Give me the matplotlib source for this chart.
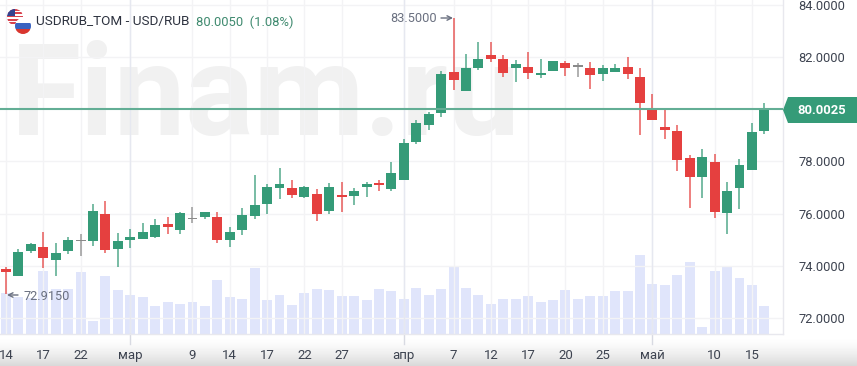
import numpy as np
import matplotlib
matplotlib.use('Agg')
import matplotlib.pyplot as plt
from matplotlib.patches import Circle, Polygon, Rectangle

# candle values
opens = [73.89, 73.61, 74.56, 74.72, 74.22, 74.57, 74.98, 74.97, 75.97, 74.66, 75.00, 75.04, 75.09, 75.59, 75.37, 75.85,
         75.86, 75.87, 74.99, 75.39, 75.91, 76.38, 76.97, 76.98, 76.63, 76.74, 76.10, 76.72, 76.68, 77.01, 77.16, 76.95,
         77.29, 78.73, 79.41, 79.85, 81.42, 80.72, 81.57, 82.08, 81.93, 81.58, 81.64, 81.33, 81.48, 81.78, 81.64, 81.57,
         81.36, 81.44, 81.64, 81.24, 80.05, 79.33, 79.18, 78.12, 77.41, 77.98, 76.01, 76.97, 77.69, 79.18]
closes = [73.78, 74.52, 74.82, 74.31, 74.48, 74.99, 74.95, 76.10, 74.61, 74.95, 75.11, 75.30, 75.57, 75.48, 76.04, 75.80,
          76.06, 74.99, 75.30, 75.96, 76.35, 77.02, 77.13, 76.72, 77.02, 76.00, 77.02, 76.65, 76.87, 77.14, 77.10, 77.56,
          78.71, 79.48, 79.82, 81.37, 81.14, 81.58, 81.92, 81.94, 81.38, 81.74, 81.39, 81.41, 81.87, 81.58, 81.69, 81.33,
          81.58, 81.58, 81.34, 80.23, 79.60, 79.22, 78.07, 77.41, 78.17, 76.06, 76.87, 77.88, 79.13, 80.0025]
highs = [73.97, 74.63, 74.88, 75.30, 74.86, 75.11, 75.21, 76.37, 76.47, 75.27, 75.41, 75.64, 75.80, 75.89, 76.08, 76.27,
         76.06, 76.08, 75.50, 76.22, 77.50, 77.13, 77.76, 77.29, 77.06, 76.95, 77.19, 77.23, 77.00, 77.20, 77.29, 77.97,
         78.86, 79.58, 79.90, 81.47, 83.50, 82.11, 82.57, 82.57, 82.08, 81.89, 82.19, 81.94, 81.87, 81.87, 81.79, 81.80,
         81.70, 81.75, 81.99, 81.60, 80.59, 79.97, 79.39, 78.24, 78.48, 78.29, 77.20, 78.10, 79.49, 80.26]
lows = [72.915, 73.61, 74.51, 73.93, 73.61, 74.44, 74.37, 74.77, 74.48, 73.97, 74.70, 75.02, 75.07, 75.22, 75.21, 75.63,
        75.81, 74.89, 74.74, 75.17, 75.78, 75.99, 76.55, 76.61, 76.61, 75.71, 75.99, 76.08, 76.32, 76.65, 76.86, 76.86,
        77.29, 78.68, 79.21, 79.69, 80.74, 80.72, 81.51, 81.80, 81.23, 81.03, 81.18, 81.19, 81.48, 81.28, 81.23, 80.78,
        81.09, 81.42, 81.18, 79.02, 79.59, 78.85, 77.62, 76.23, 76.59, 75.83, 75.22, 76.17, 77.67, 79.05]
volumes = [123, 110, 108, 188, 135, 135, 185, 38, 173, 131, 116, 110, 83, 95, 91, 97, 83, 161, 110, 105, 199, 101, 116, 87,
           124, 136, 132, 113, 113, 101, 136, 128, 105, 139, 116, 136, 203, 139, 116, 91, 106, 106, 113, 95, 101, 131, 106,
           113, 113, 128, 128, 236, 151, 146, 176, 217, 20, 188, 203, 169, 146, 83]

tick_pos = [0, 3, 6, 10, 15, 18, 21, 24, 27, 32, 36, 39, 42, 45, 48, 52, 57, 60]
tick_labels = ['14', '17', '22', 'мар', '9', '14', '17', '22', '27', 'апр', '7', '12', '17', '20', '25', 'май', '10', '15']
month_ticks = [10, 32, 52]
price_ticks = [72, 74, 76, 78, 82, 84]
last_price = 80.0025

GREEN = '#359b78'
RED = '#e5403f'
VOL = '#e0e5fb'
GRID = '#f3f3f5'
TEXT = '#3d4350'

plt.rcParams['font.family'] = ['Roboto', 'DejaVu Sans']
fig = plt.figure(figsize=(8.57, 3.66), dpi=100, facecolor='white')

# full figure overlay in pixels for the page furniture
bg = fig.add_axes([0, 0, 1, 1], zorder=0)
grad = (1 - 0.15 * np.linspace(0, 1, 31) ** 1.6).reshape(-1, 1)
bg.imshow(grad, extent=(0, 857, 366, 335), cmap='gray', vmin=0, vmax=1, aspect='auto', zorder=1)
bg.set_xlim(0, 857)
bg.set_ylim(366, 0)
bg.axis('off')
bg.text(11, 135, 'Finam.ru', family='Roboto', weight='bold', fontsize=92, color='#f1f1f1', va='baseline', zorder=2)

ax = fig.add_axes([0, 32 / 366, 783 / 857, 334 / 366], zorder=3)
ax.patch.set_alpha(0)

# volume bars on their own scale, under the candles
vol = ax.twinx()
vol.set_ylim(0, 1002)
vol.axis('off')
vol.set_zorder(ax.get_zorder() - 1)
vol.bar(range(len(volumes)), volumes, width=0.8, color=VOL, linewidth=0)

ax.set_xlim(-0.483, 62.5)
ax.set_ylim(71.385, 84.192)
for s in ['top', 'left']:
    ax.spines[s].set_visible(False)
for s in ['right', 'bottom']:
    ax.spines[s].set_color('#e8e8ee')
    ax.spines[s].set_linewidth(1)
ax.set_xticks(tick_pos)
ax.set_xticklabels(tick_labels, fontsize=9.5, color=TEXT)
ax.set_yticks(price_ticks)
ax.set_yticklabels([f'{p:.4f}' for p in price_ticks], fontsize=9.3, color=TEXT)
ax.yaxis.tick_right()
ax.tick_params(axis='x', length=0, pad=11)
ax.tick_params(axis='y', length=0, pad=11)
ax.grid(True, color=GRID, linewidth=1)
ax.set_axisbelow(True)
for m in month_ticks:
    ax.axvline(m, color='#e6e8f0', linewidth=1, zorder=1)
    ax.plot([m, m], [0, -0.03], transform=ax.get_xaxis_transform(), color='#d8dae2', linewidth=1, clip_on=False)

# candles
for i in range(len(opens)):
    if abs(closes[i] - opens[i]) < 0.05:
        c = '#8a8a8a'
    else:
        c = GREEN if closes[i] >= opens[i] else RED
    ax.plot([i, i], [lows[i], highs[i]], color=c, linewidth=1.1, alpha=0.85, solid_capstyle='butt', zorder=3)
    bottom = min(opens[i], closes[i])
    ax.bar(i, abs(closes[i] - opens[i]), bottom=bottom, width=0.8, color=c, linewidth=0, zorder=4)

ax.axhline(last_price, color='#63ae95', linewidth=1.5, zorder=5)

# price tag on the right
top = fig.add_axes([0, 0, 1, 1], zorder=5)
top.set_xlim(0, 857)
top.set_ylim(366, 0)
top.axis('off')
top.add_patch(Polygon([(783, 110), (788, 97), (857, 97), (857, 123), (788, 123)], closed=True, color=GREEN, linewidth=0))
top.text(797, 111, f'{last_price:.4f}', color='white', fontsize=9.4, weight='bold', va='center')

# header
top.text(36, 22, 'USDRUB_TOM - USD/RUB', fontsize=9.7, color='#2e3340', va='center')
top.text(196, 22, '80.0050  (1.08%)', fontsize=9.4, color='#3f8a6f', va='center')

# flags
us = Circle((15, 17), 8, color='white', linewidth=0)
top.add_patch(us)
for k in range(5):
    st = Rectangle((7, 9 + k * 3.3), 16, 1.7, color='#d9434e', linewidth=0)
    top.add_patch(st)
    st.set_clip_path(us)
canton = Rectangle((7, 9), 8, 7, color='#33428f', linewidth=0)
top.add_patch(canton)
canton.set_clip_path(us)
ru = Circle((23, 26), 8, color='white', linewidth=0)
top.add_patch(ru)
for y0, col in [(23.3, '#3a62c0'), (28.6, '#d9362f')]:
    st = Rectangle((15, y0), 16, 5.5, color=col, linewidth=0)
    top.add_patch(st)
    st.set_clip_path(ru)

# extreme labels
top.text(24, 296, '72.9150', fontsize=9.2, color='#6a7080', va='center')
top.annotate('', xy=(7, 295), xytext=(18, 295), arrowprops=dict(arrowstyle='->', color='#6a7080', lw=1, mutation_scale=8, shrinkA=0, shrinkB=0))
top.text(390, 19, '83.5000', fontsize=9.2, color='#6a7080', va='center')
top.annotate('', xy=(453, 18), xytext=(441, 18), arrowprops=dict(arrowstyle='->', color='#6a7080', lw=1, mutation_scale=8, shrinkA=0, shrinkB=0))

plt.savefig('out.png', dpi=100)
